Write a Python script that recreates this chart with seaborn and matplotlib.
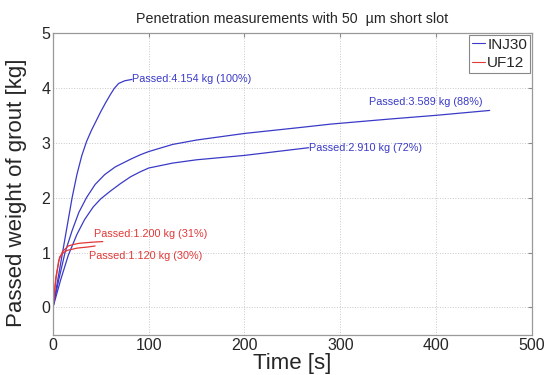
import pandas as pd
import seaborn as sns
import matplotlib.pyplot as plt

# Curves (time in s, passed weight in kg)
inj30_a_t = [0, 5, 10, 15, 20, 25, 30, 35, 40, 46, 50, 55, 60, 64, 68.5, 75, 82.5]
inj30_a_w = [0, 0.5, 1.0, 1.5, 2.0, 2.42, 2.76, 3.02, 3.22, 3.43, 3.57, 3.73, 3.88, 3.99, 4.08, 4.13, 4.154]

inj30_b_t = [0, 6, 12.6, 20, 27, 35, 44, 54, 65, 81, 91, 100, 125, 150, 200, 259, 290, 350, 400, 456]
inj30_b_w = [0, 0.5, 1.0, 1.4, 1.73, 2.0, 2.24, 2.42, 2.56, 2.7, 2.78, 2.84, 2.97, 3.05, 3.17, 3.28, 3.34, 3.43, 3.5, 3.589]

inj30_c_t = [0, 8, 16, 25, 33, 42, 50, 60, 70, 81, 91, 100, 125, 150, 200, 267]
inj30_c_w = [0, 0.5, 0.95, 1.33, 1.6, 1.83, 1.98, 2.12, 2.25, 2.38, 2.47, 2.54, 2.63, 2.69, 2.77, 2.91]

uf12_a_t = [0, 3, 6, 10, 16, 22, 28, 35, 42, 52]
uf12_a_w = [0, 0.5, 0.85, 1.02, 1.12, 1.15, 1.17, 1.18, 1.19, 1.2]

uf12_b_t = [0, 3, 7, 11, 15, 20, 25, 30, 36, 44]
uf12_b_w = [0, 0.55, 0.92, 1.0, 1.04, 1.06, 1.08, 1.09, 1.1, 1.12]

labels = ["Passed:4.154 kg (100%)", "Passed:3.589 kg (88%)", "Passed:2.910 kg (72%)",
          "Passed:1.200 kg (31%)", "Passed:1.120 kg (30%)"]

runs = [("INJ30", "a", inj30_a_t, inj30_a_w),
        ("INJ30", "b", inj30_b_t, inj30_b_w),
        ("INJ30", "c", inj30_c_t, inj30_c_w),
        ("UF12", "d", uf12_a_t, uf12_a_w),
        ("UF12", "e", uf12_b_t, uf12_b_w)]

rows = []
for grout, run, ts, ws in runs:
    for t, w in zip(ts, ws):
        rows.append({"grout": grout, "run": run, "t": t, "w": w})
df = pd.DataFrame(rows)

blue = "#3a3ac8"
red = "#e23838"

sns.set_style("white")
plt.rcParams["font.family"] = ["Liberation Sans", "DejaVu Sans"]

fig, ax = plt.subplots(figsize=(5.46, 3.75), dpi=100)
fig.subplots_adjust(left=0.097, right=0.974, bottom=0.107, top=0.912)

sns.lineplot(data=df, x="t", y="w", hue="grout", units="run", estimator=None,
             palette={"INJ30": blue, "UF12": red}, linewidth=0.9, ax=ax, sort=False)

# Text labels at the curve ends
fs = 7.8
ax.text(inj30_a_t[-1], inj30_a_w[-1], labels[0], color=blue, fontsize=fs, va="center", ha="left")
ax.text(448, 3.74, labels[1], color=blue, fontsize=fs, va="center", ha="right")
ax.text(inj30_c_t[-1], inj30_c_w[-1], labels[2], color=blue, fontsize=fs, va="center", ha="left")
ax.text(43, 1.34, labels[3], color=red, fontsize=fs, va="center", ha="left")
ax.text(38, 0.93, labels[4], color=red, fontsize=fs, va="center", ha="left")

ax.set_xlim(0, 500)
ax.set_ylim(-0.5, 5)
ax.set_xticks([0, 100, 200, 300, 400, 500])
ax.set_yticks([0, 1, 2, 3, 4, 5])
ax.grid(True, linestyle=":", color="#c8c8c8", linewidth=0.7)
ax.tick_params(labelsize=11.5, direction="in", length=3, color="#888888",
               top=True, right=True, pad=2)
for s in ax.spines.values():
    s.set_color("#999999")
    s.set_linewidth(0.9)

ax.set_title("Penetration measurements with 50  µm short slot", fontsize=10.3, pad=7)
ax.set_xlabel("Time [s]", fontsize=16, labelpad=0)
ax.set_ylabel("Passed weight of grout [kg]", fontsize=16)
ax.yaxis.set_label_coords(-0.055, 0.47)

leg = ax.legend(loc="upper right", fontsize=11, handlelength=0.85, handletextpad=0.15,
                borderpad=0.2, labelspacing=0.3, borderaxespad=0.1, fancybox=False,
                framealpha=1, title=None)
leg.get_frame().set_edgecolor("#888888")
leg.get_frame().set_linewidth(0.8)
for line in leg.get_lines():
    line.set_linewidth(0.8)

fig.savefig("out.png", dpi=100)
